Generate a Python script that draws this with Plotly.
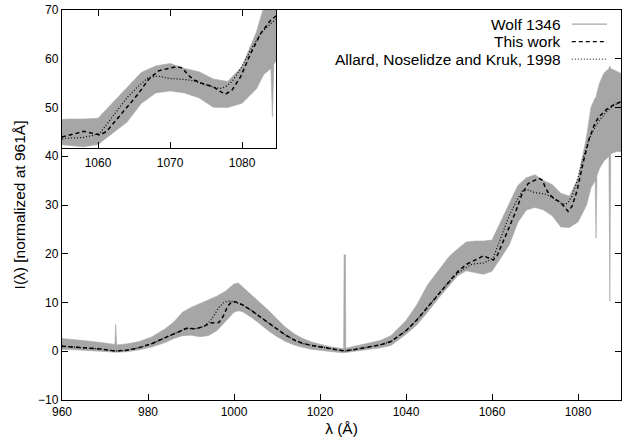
import plotly.graph_objects as go

# ---------------- data ----------------
# Observed spectrum of Wolf 1346: lower / upper envelope of the noisy trace
spec_wl = [960, 963, 966, 969, 972.3, 972.5, 972.7, 975, 978, 981, 984, 986, 988, 990,
           992, 994, 996, 998, 1000, 1001, 1002, 1004, 1006, 1008, 1010, 1012, 1014,
           1016, 1018, 1020, 1022, 1024, 1025.5, 1025.6, 1025.9, 1026.0, 1028, 1031,
           1034, 1036.5, 1038.5, 1040, 1042.5, 1045, 1047.5, 1050, 1052, 1054, 1056,
           1058, 1060, 1062, 1064, 1066, 1068, 1070, 1072, 1074, 1076, 1078, 1080,
           1082, 1083, 1084, 1084.2, 1084.4, 1085, 1086, 1087.2, 1087.4, 1087.6,
           1089, 1090]
spec_lo = [0.4, 0.3, 0.2, 0.0, -0.2, -0.2, -0.2, -0.1, 0.3, 0.9, 1.8, 2.6, 3.2, 3.3,
           3.0, 3.2, 4.2, 6.2, 8.0, 8.3, 8.1, 7.0, 5.6, 4.2, 3.0, 2.0, 1.3,
           0.8, 0.4, 0.2, 0.0, -0.2, -0.3, -0.3, -0.3, -0.3, -0.1, 0.3,
           0.7, 1.2, 2.5, 3.5, 5.4, 8.0, 10.8, 13.5, 15.5, 16.5, 16.2,
           15.8, 16.4, 19.0, 21.8, 26.4, 29.0, 29.5, 29.0, 27.8, 25.5, 25.4, 26.5,
           30.0, 33.5, 35.0, 23.2, 36.0, 37.5, 39.0, 40.0, 10.2, 40.5,
           41.0, 41.0]
spec_hi = [2.6, 2.4, 2.1, 1.8, 1.4, 5.5, 1.3, 1.5, 2.0, 3.0, 4.6, 6.0, 8.0, 9.0,
           9.8, 10.6, 11.3, 12.3, 13.8, 14.0, 13.2, 11.8, 10.2, 8.4, 6.6, 4.9, 3.6,
           2.6, 1.9, 1.4, 1.0, 0.7, 0.5, 19.8, 19.8, 0.6, 1.0, 1.6,
           2.2, 3.2, 5.0, 6.3, 9.5, 13.6, 16.5, 19.4, 21.0, 22.4, 22.6,
           22.6, 22.8, 26.6, 30.3, 34.0, 35.6, 36.2, 35.0, 34.2, 32.4, 31.8, 35.5,
           44.0, 50.0, 52.0, 52.0, 53.0, 55.0, 57.0, 58.0, 58.5, 58.0,
           57.5, 57.0]

# Model spectra
model_wl = [960, 963, 966, 969, 972.5, 975, 978, 981, 984, 987, 989, 991, 993, 994.5,
            995.5, 996.5, 997.5, 998.5, 999.5, 1000.5, 1002, 1004, 1006, 1008, 1010,
            1012, 1014, 1016, 1018, 1020, 1022, 1024, 1025.7, 1028, 1031, 1034, 1036.5,
            1038.5, 1040, 1042.5, 1045, 1047.5, 1050, 1052, 1054, 1055.5, 1057, 1058,
            1059.3, 1060.3, 1061.2, 1062.5, 1064, 1065.5, 1067, 1068.4, 1070, 1071,
            1071.7, 1072.5, 1073.3, 1074.5, 1076, 1077, 1077.7, 1078.6, 1079.8, 1081.2,
            1082.6, 1084, 1085, 1086.5, 1088, 1090]
this_work = [1.05, 0.9, 0.75, 0.45, 0.05, 0.2, 0.75, 1.6, 2.8, 4.0, 4.7, 4.6, 5.1, 5.8,
             5.85, 5.9, 7.2, 9.2, 10.2, 10.1, 9.5, 8.4, 7.1, 5.8, 4.5,
             3.3, 2.3, 1.6, 1.2, 0.9, 0.6, 0.3, 0.05, 0.35, 0.8, 1.3, 2.0,
             3.2, 4.2, 6.4, 9.0, 11.7, 14.4, 16.3, 17.8, 18.4, 19.1, 19.6,
             19.0, 18.7, 19.6, 22.3, 25.3, 28.6, 32.3, 34.4, 35.1, 35.4,
             35.1, 33.4, 32.2, 31.3, 30.5, 29.3, 28.7, 29.7, 33.0, 38.7,
             43.6, 46.9, 48.2, 49.5, 50.4, 51.2]
allard = [1.05, 0.9, 0.75, 0.45, 0.05, 0.2, 0.75, 1.6, 2.8, 4.0, 4.7, 4.6, 5.1, 6.2,
          7.6, 9.0, 9.9, 10.3, 10.25, 10.0, 9.5, 8.4, 7.1, 5.8, 4.5,
          3.3, 2.3, 1.6, 1.2, 0.9, 0.6, 0.3, 0.05, 0.35, 0.8, 1.3, 2.0,
          3.2, 4.2, 6.4, 9.0, 11.7, 14.3, 16.0, 17.2, 17.9, 18.0, 18.1,
          18.6, 19.2, 21.3, 24.4, 27.8, 30.5, 32.8, 33.1, 32.5, 32.45,
          32.4, 32.2, 31.9, 31.3, 30.4, 30.1, 30.5, 31.8, 34.9, 39.6,
          43.6, 46.0, 47.4, 49.0, 50.3, 51.2]

x_ticks = [960, 980, 1000, 1020, 1040, 1060, 1080]
y_ticks = [-10, 0, 10, 20, 30, 40, 50, 60, 70]
inset_x_ticks = [1060, 1070, 1080]
top_ticks = [1020, 1040, 1060, 1080]

legend_names = ["Wolf 1346", "This work", "Allard, Noselidze and Kruk, 1998"]

# ---------------- styling ----------------
GRAY = "#a6a6a6"
FONT = "Liberation Sans, Arial, Helvetica, sans-serif"

fig = go.Figure()
for xa, ya in [("x", "y"), ("x2", "y2")]:
    fig.add_trace(go.Scatter(
        x=spec_wl + spec_wl[::-1], y=spec_hi + spec_lo[::-1],
        fill="toself", fillcolor=GRAY, mode="lines",
        line=dict(color=GRAY, width=0.6), xaxis=xa, yaxis=ya,
        showlegend=False, hoverinfo="skip"))
    fig.add_trace(go.Scatter(
        x=model_wl, y=allard, mode="lines",
        line=dict(color="black", width=1.2, dash="1px,2px"),
        xaxis=xa, yaxis=ya, showlegend=False))
    fig.add_trace(go.Scatter(
        x=model_wl, y=this_work, mode="lines",
        line=dict(color="black", width=1.5, dash="4px,3px"),
        xaxis=xa, yaxis=ya, showlegend=False))

axis_common = dict(showgrid=False, zeroline=False, showline=True, linecolor="black",
                   linewidth=1.3, ticks="inside", ticklen=6, tickcolor="black",
                   tickwidth=1, automargin=False,
                   tickfont=dict(size=12, color="black", family=FONT))

fig.update_layout(
    width=622, height=440,
    margin=dict(l=62, r=1, t=10, b=40),
    paper_bgcolor="white", plot_bgcolor="white",
    font=dict(family=FONT, color="black"),
    showlegend=False,
    xaxis=dict(domain=[0, 1], range=[960, 1090], tickvals=x_ticks, mirror=True,
               title=dict(text="λ (Å)", font=dict(size=15.5), standoff=5),
               **axis_common),
    xaxis3=dict(overlaying="x", side="top", anchor="y", range=[960, 1090],
                tickvals=top_ticks, ticks="inside", ticklen=6, tickcolor="black",
                showticklabels=False, showline=False, showgrid=False, zeroline=False),
    yaxis=dict(domain=[0, 1], range=[-10, 70], tickvals=y_ticks, mirror="ticks",
               title=dict(text="I(λ) [normalized at 961Å]", font=dict(size=15.5), standoff=8),
               **axis_common),
    xaxis2=dict(domain=[0, 0.3828], range=[1055, 1084.7], anchor="y2",
                tickvals=inset_x_ticks, mirror="ticks", ticklabelstandoff=3,
                **axis_common),
    yaxis2=dict(domain=[0.646, 1], range=[15.5, 49.3], anchor="x2",
                showgrid=False, zeroline=False, showline=True, linecolor="black",
                linewidth=1.3, mirror=True, ticks="", showticklabels=False),
)

# gnuplot-style key: text right-aligned, sample line to its right
rows_y = [0.964, 0.919, 0.874]
styles = [dict(color=GRAY, width=1.2), dict(color="black", width=1.3, dash="4px,3px"),
          dict(color="black", width=1.0, dash="1px,2px")]
for name, yy, st in zip(legend_names, rows_y, styles):
    fig.add_annotation(text=name, xref="paper", yref="paper", x=0.897, y=yy,
                       xanchor="right", yanchor="middle", showarrow=False,
                       font=dict(size=15.5, family=FONT, color="black"))
    fig.add_shape(type="line", xref="paper", yref="paper", x0=0.912, x1=0.975,
                  y0=yy, y1=yy, line=st)

# remove the default 8px page margin so the 622x440 figure fills the window exactly
fig.write_html("out.html", config={"displayModeBar": False},
               post_script="document.body.style.margin='0';document.body.style.overflow='hidden';")
